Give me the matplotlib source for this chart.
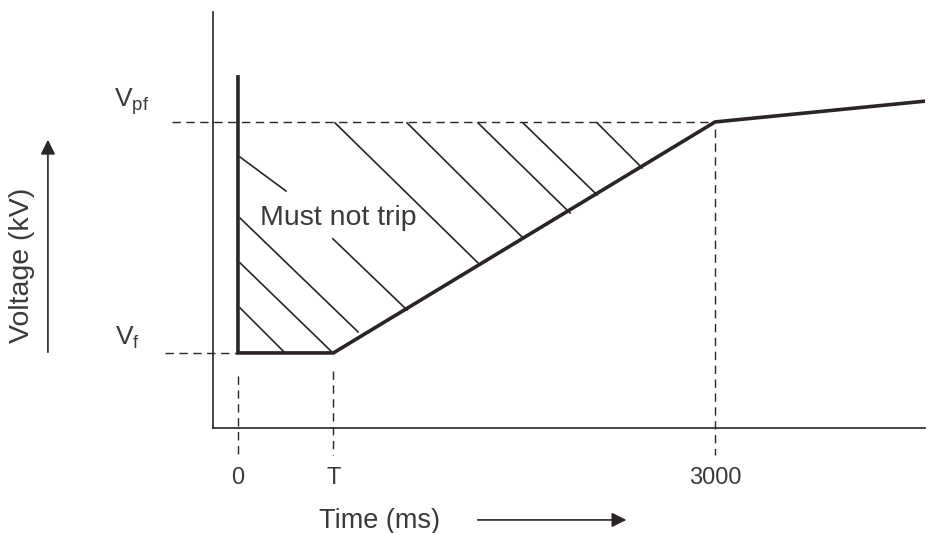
import matplotlib
matplotlib.use("Agg")
import matplotlib.pyplot as plt

plt.rcParams['font.family'] = ['Liberation Sans', 'DejaVu Sans']
plt.rcParams['mathtext.fontset'] = 'custom'
plt.rcParams['mathtext.rm'] = 'Liberation Sans'

# Eğri verisi (zaman ms, gerilim göreli birim: Vf=1, Vpf=2)
T_ms = 600
V_f = 1.0
V_pf = 2.0
curve_t = [0, 0, T_ms, 3000, 4320]
curve_v = [2.195, V_f, V_f, V_pf, 2.09]

# tarama çizgileri (başlangıç / bitiş)
hatch_x0 = [13, 597, 13, 13, 13, 610, 1063, 1509, 1792, 2258]
hatch_y0 = [1.848, 1.494, 1.584, 1.390, 1.195, 1.996, 1.996, 1.996, 1.996, 1.996]
hatch_x1 = [302, 1063, 755, 597, 296, 1509, 1792, 2088, 2258, 2541]
hatch_y1 = [1.701, 1.186, 1.091, 1.0, 1.0, 1.390, 1.498, 1.606, 1.684, 1.801]

tick_pos = [0, T_ms, 3000]
tick_labels = ["0", "T", "3000"]

ink = "#2a2428"
txt = "#3a3a3a"

fig = plt.figure(figsize=(9.33, 5.33), dpi=100)
ax = fig.add_axes([213 / 933, 105 / 533, 712 / 933, 416 / 533])
ax.set_xlim(-157, 4320)
ax.set_ylim(0.675, 2.476)
for s in ["top", "right"]:
    ax.spines[s].set_visible(False)
for s in ["left", "bottom"]:
    ax.spines[s].set_linewidth(1.2)
    ax.spines[s].set_color(ink)
ax.set_xticks([])
ax.set_yticks([])

# kesikli yardımcı çizgiler
dash = dict(color=ink, lw=1.0, ls=(0, (6, 4)), clip_on=False)
ax.plot([-415, 3000], [V_pf, V_pf], **dash)
ax.plot([-460, 0], [V_f, V_f], **dash)
ax.plot([0, 0], [0.90, 0.56], **dash)
ax.plot([T_ms, T_ms], [0.92, 0.56], **dash)
ax.plot([3000, 3000], [1.97, 0.56], **dash)

# tarama
for x0, y0, x1, y1 in zip(hatch_x0, hatch_y0, hatch_x1, hatch_y1):
    ax.plot([x0, x1], [y0, y1], color=ink, lw=1.2)

# ana eğri
ax.plot(curve_t, curve_v, color=ink, lw=2.6, solid_joinstyle="miter")

# yazılar
ax.text(138, 1.584, "Must not trip", fontsize=20.5, color=txt, va="center", ha="left")
for p, l in zip(tick_pos, tick_labels):
    ax.text(p, 0.459, l, fontsize=17, color=txt, ha="center", va="center")
ax.text(-667, 2.087, r"$\mathregular{V_{pf}}$", fontsize=19, color=txt, ha="center", va="center")
ax.text(-692, 1.065, r"$\mathregular{V_{f}}$", fontsize=19, color=txt, ha="center", va="center")
ax.text(893, 0.273, "Time (ms)", fontsize=19.5, color=txt, ha="center", va="center")
ax.text(-1358, 1.381, "Voltage (kV)", fontsize=20.5, color=txt, ha="center", va="center",
        rotation=90)

# oklar
ax.annotate("", xy=(2460, 0.277), xytext=(1490, 0.277), annotation_clip=False,
            arrowprops=dict(arrowstyle="-|>", color=ink, lw=1.2, mutation_scale=22))
ax.annotate("", xy=(-1195, 1.935), xytext=(-1195, 0.991), annotation_clip=False,
            arrowprops=dict(arrowstyle="-|>", color=ink, lw=1.2, mutation_scale=22))

fig.savefig("out.png", dpi=100)
